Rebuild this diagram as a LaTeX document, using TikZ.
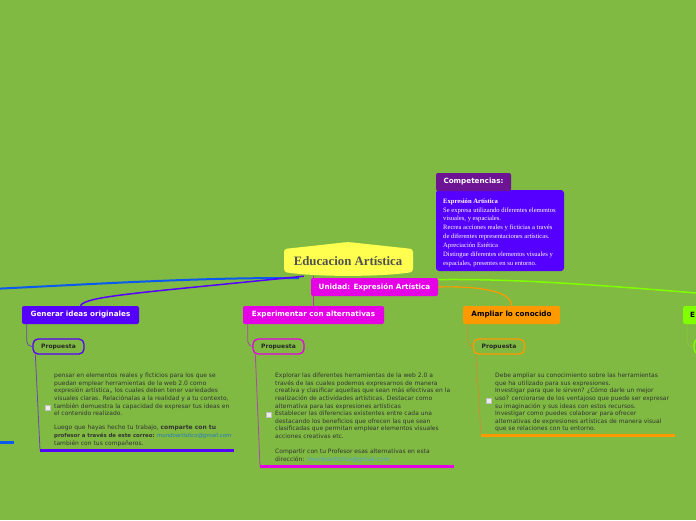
\documentclass[tikz,border=0pt]{standalone}
\usepackage{fontspec}
\setmainfont{Liberation Serif}
\setsansfont{DejaVu Sans}
\usepackage{xcolor}
\usepackage{tikz}
\usetikzlibrary{calc,backgrounds}
\pgfdeclarelayer{edgelayer}
\pgfdeclarelayer{nodelayer}
\pgfsetlayers{background,edgelayer,nodelayer,main}
\definecolor{bggreen}{HTML}{80BA42}
\definecolor{rootyellow}{HTML}{FFFF4F}
\definecolor{rootgray}{HTML}{505050}
\definecolor{comppurple}{HTML}{6C1494}
\definecolor{topviolet}{HTML}{5500FF}
\definecolor{topmagenta}{HTML}{E600E6}
\definecolor{toporange}{HTML}{FF9900}
\definecolor{toplime}{HTML}{80FF00}
\definecolor{lineblue}{HTML}{0A5AF0}
\definecolor{linkblue}{HTML}{1E78C8}
\definecolor{linklight}{HTML}{50A0DC}
\tikzstyle{none}=[inner sep=0mm]
\tikzstyle{root}=[inner sep=0pt,minimum width=130pt,minimum height=30pt,text=rootgray,font=\bfseries\fontsize{12.8}{14}\selectfont]
\tikzstyle{topic}=[rounded corners=2pt,minimum height=18pt,inner xsep=7pt,inner ysep=0pt,text=white,font=\sffamily\bfseries\fontsize{7.2}{8}\selectfont]
\tikzstyle{propuesta}=[rounded corners=5pt,draw,line width=1.3pt,fill=bggreen,minimum width=51pt,minimum height=15pt,inner sep=0pt,text=black!85,font=\sffamily\bfseries\fontsize{6}{7}\selectfont]
\tikzstyle{note}=[anchor=north west,align=left,inner sep=0pt,text=black!80,font=\sffamily\fontsize{6}{7.6}\selectfont]
\tikzstyle{comptext}=[anchor=north west,align=left,inner sep=0pt,text=white,font=\fontsize{6.6}{8.85}\selectfont]
\tikzstyle{check}=[draw=black!25,fill=white!85!gray,minimum size=5pt,inner sep=0pt]
\tikzstyle{bar}=[line width=3pt]
\tikzstyle{leaf}=[line width=0.8pt]
\tikzstyle{branch}=[line width=1.5pt]
\begin{document}
\begin{tikzpicture}[x=1pt,y=-1pt]
	\useasboundingbox (0,0) rectangle (696,520);
	\begin{pgfonlayer}{background}
		\fill [bggreen] (0,0) rectangle (696,520);
	\end{pgfonlayer}
	\begin{pgfonlayer}{nodelayer}
		% centre
		\fill [rootyellow,rounded corners=3pt] (284,249) -- (348,242) -- (413,249) -- (413,272)
			.. controls (380,277) and (316,277) .. (284,272) -- cycle;
		\node [style=root] (root) at (348,261) {Educacion Artística};
		\node [style=topic,fill=topmagenta,minimum width=127pt] (unidad) at (374.5,287) {Unidad: Expresión Artística};
		% competencias
		\node [style=none,fill=topviolet,rounded corners=3pt,minimum width=128pt,minimum height=81pt] (compbox) at (500,230.5) {};
		\node [style=topic,fill=comppurple,minimum width=75pt] (comphead) at (473.5,182) {Competencias:};
		\node [style=comptext] (comptxt) at (443,198.5) {\textbf{Expresión Artística}\\
			Se expresa utilizando diferentes elementos\\
			visuales, y espaciales.\\
			Recrea acciones reales y ficticias a través\\
			de diferentes representaciones artísticas.\\
			Apreciación Estética\\
			Distingue diferentes elementos visuales y\\
			espaciales, presentes en su entorno.};
		% ramas
		\node [style=topic,fill=topviolet,minimum width=117pt] (gen) at (80.5,315) {Generar ideas originales};
		\node [style=topic,fill=topmagenta,minimum width=141pt] (exp) at (313.5,315) {Experimentar con alternativas};
		\node [style=topic,fill=toporange,text=black,minimum width=97pt] (amp) at (511.5,315) {Ampliar lo conocido};
		\node [style=topic,fill=toplime,text=black,anchor=west,text width=46pt,align=left] (lim) at (683,315) {E};
		\node [style=propuesta,draw=topviolet] (propA) at (58.5,346.5) {Propuesta};
		\node [style=propuesta,draw=topmagenta] (propB) at (278.5,346.5) {Propuesta};
		\node [style=propuesta,draw=toporange] (propC) at (499,346.5) {Propuesta};
		\node [style=propuesta,draw=toplime] (propD) at (719.5,346.5) {};
		% notas
		\node [style=check] (chkA) at (48,408) {};
		\node [style=note] (txtA) at (54,373) {pensar en elementos reales y ficticios para los que se\\
			puedan emplear herramientas de la web 2.0 como\\
			expresión artística,, los cuales deben tener variedades\\
			visuales claras. Relaciónalas a la realidad y a tu contexto,\\
			también demuestra la capacidad de expresar tus ideas en\\
			el contenido realizado.\\[6.6pt]
			Luego que hayas hecho tu trabajo, \textbf{comparte con tu}\\
			{\fontsize{5.4}{7.6}\selectfont\textbf{profesor a través de este correo:} {\color{linkblue}\itshape mundoartistico@gmail.com}}\\
			también con tus compañeros.};
		\node [style=check] (chkB) at (269,415) {};
		\node [style=note] (txtB) at (275,373) {Explorar las diferentes herramientas de la web 2.0 a\\
			través de las cuales podemos expresarnos de manera\\
			creativa y clasificar aquellas que sean más efectivas en la\\
			realización de actividades artísticas. Destacar como\\
			alternativa para las expresiones artísticas\\
			Establecer las diferencias existentes entre cada una\\
			destacando los beneficios que ofrecen las que sean\\
			clasificadas que permitan emplear elementos visuales\\
			acciones creativas etc.\\[7.6pt]
			Compartir con tu Profesor esas alternativas en esta\\
			dirección: {\color{linklight}\itshape mundoartistico@gmail.com}};
		\node [style=check] (chkC) at (489,401) {};
		\node [style=note] (txtC) at (495,373) {Debe ampliar su conocimiento sobre las herramientas\\
			que ha utilizado para sus expresiones.\\
			Investigar para que le sirven? ¿Cómo darle un mejor\\
			uso? cerciorarse de los ventajoso que puede ser expresar\\
			su imaginación y sus ideas con estos recursos.\\
			Investigar como puedes colaborar para ofrecer\\
			alternativas de expresiones artísticas de manera visual\\
			que se relaciones con tu entorno.};
		\coordinate (farblue) at (-30,290);
		\coordinate (farlime) at (720,295);
		\coordinate (barA) at (40,450);
		\coordinate (barAend) at (234,450);
		\coordinate (barB) at (260,466);
		\coordinate (barBend) at (454,466);
		\coordinate (barC) at (481,435);
		\coordinate (barCend) at (675,435);
		\coordinate (barL) at (-60,442);
		\coordinate (barLend) at (14,442);
	\end{pgfonlayer}
	\begin{pgfonlayer}{edgelayer}
		\draw [line width=2pt,lineblue] ([xshift=16pt,yshift=-2pt]root.south west) .. controls (200,277) and (80,285) .. (farblue);
		\draw [style=branch,topviolet] ([xshift=21pt]root.south west) .. controls (140,293) and (85,296) .. (gen.north);
		\draw [style=branch,toplime] ([yshift=-4pt]root.south east) .. controls (500,277) and (600,285) .. (farlime);
		\draw [line width=1.2pt,toporange] (unidad.east) .. controls (475,286) and (512,290) .. (amp.north);
		\draw [line width=1pt,topmagenta!70!gray] (exp.north) -- (exp.north |- root.south);
		\draw [style=leaf,topviolet!45!gray,rounded corners=5pt] ([xshift=5pt]gen.south west) |- (propA.west);
		\draw [style=leaf,topmagenta!45!gray,rounded corners=5pt] ([xshift=5pt]exp.south west) |- (propB.west);
		\draw [style=leaf,toporange!60!gray,rounded corners=5pt] ([xshift=5pt]amp.south west) |- (propC.west);
		\draw [style=leaf,toplime!60!gray,rounded corners=5pt] ([xshift=4pt]lim.south west) |- (propD.west);
		\draw [style=leaf,topviolet!45!gray] ([xshift=3pt]propA.south west) -- (barA);
		\draw [style=leaf,topmagenta!45!gray] ([xshift=3pt]propB.south west) -- (barB);
		\draw [style=leaf,toporange!60!gray] ([xshift=3pt]propC.south west) -- (barC);
		\draw [style=bar,topviolet] (barA) -- (barAend);
		\draw [style=bar,topmagenta] (barB) -- (barBend);
		\draw [style=bar,toporange] (barC) -- (barCend);
		\draw [style=bar,lineblue] (barL) -- (barLend);
	\end{pgfonlayer}
\end{tikzpicture}
\end{document}
